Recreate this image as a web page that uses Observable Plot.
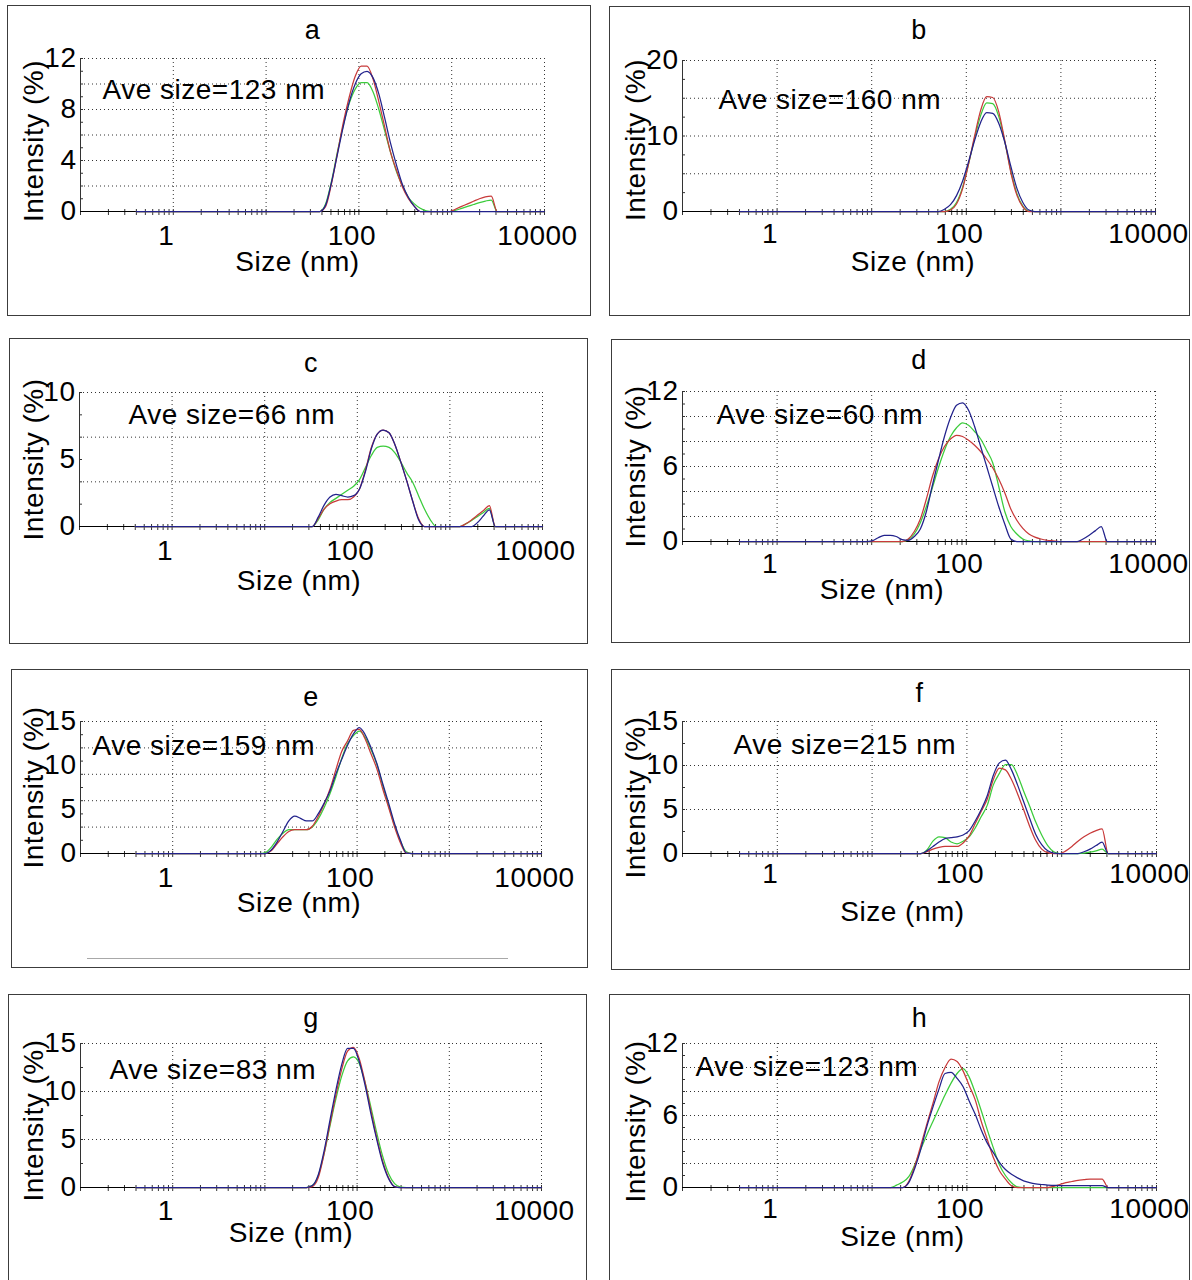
<!DOCTYPE html>
<html>
<head>
<meta charset="utf-8">
<script src="https://cdn.jsdelivr.net/npm/d3@7"></script>
<script src="https://cdn.jsdelivr.net/npm/@observablehq/plot@0.6"></script>
<style>
  body { margin: 0; background: #fff; }
  #page { position: relative; width: 1192px; height: 1280px; overflow: hidden; background: #fff;
          font-family: "Liberation Sans", Arial, sans-serif; }
  #page svg text { letter-spacing: 0.5px; }
  .box { position: absolute; border: 1.2px solid #3c3c3c; box-sizing: border-box; }
  .plotwrap { position: absolute; }
  .artifact { position: absolute; border-top: 1px solid #a8a8a8; }
</style>
</head>
<body>
<div id="page"></div>
<script>
// ---------------- data ----------------
const XGRID = [1, 10, 100, 1000, 10000];
const XLABELS = [1, 100, 10000];

// panel a
const aLabel = "Ave size=123 nm";
const aSizes = [0.4, 37.84, 43.82, 50.75, 58.77, 68.06, 78.82, 91.28, 105.7, 122.4, 141.8, 164.2, 190.1, 220.2, 255.0, 295.3, 342.0, 396.1, 458.7, 531.2, 615.1, 712.4, 825.0, 955.4, 1106, 1281, 1484, 1718, 1990, 2305, 2669, 3091, 10000];
const aRed   = [0, 0, 0.4, 2.2, 4.6, 7.0, 9.0, 10.6, 11.4, 11.4, 10.4, 8.6, 6.6, 4.6, 3.2, 1.9, 1.0, 0.4, 0, 0, 0, 0, 0, 0, 0.2, 0.4, 0.6, 0.8, 1.0, 1.15, 1.2, 0, 0];
const aGreen = [0, 0, 0.6, 2.4, 4.7, 6.8, 8.5, 9.6, 10.1, 10.1, 9.4, 8.0, 6.3, 4.6, 3.1, 2.0, 1.1, 0.6, 0.25, 0.05, 0, 0, 0, 0, 0.1, 0.25, 0.4, 0.55, 0.7, 0.82, 0.9, 0, 0];
const aBlue  = [0, 0, 0.5, 2.3, 4.5, 6.7, 8.6, 10.0, 10.8, 11.0, 10.5, 9.2, 7.3, 5.3, 3.6, 2.1, 1.1, 0.4, 0, 0, 0, 0, 0, 0, 0, 0, 0, 0, 0, 0, 0, 0, 0];
const aYLabels = [0, 4, 8, 12];
const aYGrid = [2, 4, 6, 8, 10, 12];

// panel b
const bLabel = "Ave size=160 nm";
const bSizes = [0.4, 50.75, 58.77, 68.06, 78.82, 91.28, 105.7, 122.4, 141.8, 164.2, 190.1, 220.2, 255.0, 295.3, 342.0, 396.1, 458.7, 531.2, 10000];
const bRed   = [0, 0, 0, 0.2, 1.0, 3.0, 6.3, 10.0, 13.4, 15.2, 15.1, 13.2, 9.4, 5.2, 2.2, 0.6, 0, 0, 0];
const bGreen = [0, 0, 0, 0.3, 1.2, 3.2, 6.3, 9.7, 12.7, 14.4, 14.3, 12.6, 9.3, 5.4, 2.4, 0.7, 0.05, 0, 0];
const bBlue  = [0, 0, 0.3, 0.9, 2.1, 4.0, 6.6, 9.4, 11.8, 13.1, 13.0, 11.7, 9.2, 6.0, 3.1, 1.2, 0.2, 0, 0];
const bYLabels = [0, 10, 20];
const bYGrid = [5, 10, 15, 20];

// panel c
const cLabel = "Ave size=66 nm";
const cSizes = [0.4, 32.67, 37.84, 43.82, 50.75, 58.77, 68.06, 78.82, 91.28, 105.7, 122.4, 141.8, 164.2, 190.1, 220.2, 255.0, 295.3, 342.0, 396.1, 458.7, 531.2, 615.1, 712.4, 825.0, 955.4, 1106, 1281, 1484, 1718, 1990, 2305, 2669, 3091, 10000];
const cRed   = [0, 0, 0.6, 1.3, 1.7, 1.9, 2.0, 2.0, 2.2, 2.8, 4.2, 5.9, 6.9, 7.2, 7.0, 6.1, 4.8, 3.4, 1.9, 0.6, 0, 0, 0, 0, 0, 0, 0, 0.2, 0.5, 0.85, 1.2, 1.55, 0, 0];
const cGreen = [0, 0, 0.5, 1.3, 1.8, 2.1, 2.4, 2.7, 3.0, 3.5, 4.4, 5.3, 5.9, 6.0, 5.9, 5.5, 4.8, 4.0, 3.3, 2.3, 1.3, 0.5, 0, 0, 0, 0, 0, 0.2, 0.45, 0.75, 1.05, 1.35, 0, 0];
const cBlue  = [0, 0, 0.7, 1.6, 2.2, 2.4, 2.3, 2.2, 2.3, 2.8, 4.1, 5.8, 6.9, 7.2, 7.0, 6.1, 4.8, 3.4, 1.9, 0.5, 0, 0, 0, 0, 0, 0, 0, 0, 0, 0.3, 0.8, 1.25, 0, 0];
const cYLabels = [0, 5, 10];
const cYGrid = [10 / 3, 20 / 3, 10];

// panel d
const dLabel = "Ave size=60 nm";
const dSizes = [0.4, 8.721, 10.1, 11.7, 13.54, 15.69, 18.17, 21.04, 24.36, 28.21, 32.67, 37.84, 43.82, 50.75, 58.77, 68.06, 78.82, 91.28, 105.7, 122.4, 141.8, 164.2, 190.1, 220.2, 255.0, 295.3, 342.0, 396.1, 458.7, 531.2, 615.1, 712.4, 825.0, 955.4, 1106, 1281, 1484, 1718, 1990, 2305, 2669, 3091, 10000];
const dRed   = [0, 0, 0, 0, 0, 0, 0, 0, 0.2, 0.8, 1.8, 3.4, 5.2, 6.6, 7.6, 8.2, 8.5, 8.4, 8.1, 7.7, 7.2, 6.6, 5.9, 5.0, 3.9, 2.6, 1.7, 1.05, 0.6, 0.35, 0.2, 0.1, 0.05, 0, 0, 0, 0, 0, 0, 0, 0, 0, 0];
const dGreen = [0, 0, 0, 0, 0, 0, 0, 0, 0.15, 0.6, 1.5, 2.8, 4.3, 5.9, 7.3, 8.4, 9.1, 9.5, 9.3, 8.8, 8.2, 7.3, 6.3, 4.4, 2.4, 1.2, 0.6, 0.2, 0.05, 0, 0, 0, 0, 0, 0, 0, 0, 0, 0, 0, 0, 0, 0];
const dBlue  = [0, 0, 0.05, 0.3, 0.5, 0.5, 0.4, 0.15, 0.1, 0.4, 1.0, 2.4, 4.5, 6.5, 8.4, 9.9, 10.9, 11.1, 10.5, 9.2, 7.6, 6.0, 4.4, 2.8, 1.4, 0.2, 0, 0, 0, 0, 0, 0, 0, 0, 0, 0, 0, 0.2, 0.5, 0.85, 1.2, 0, 0];
const dYLabels = [0, 6, 12];
const dYGrid = [2, 4, 6, 8, 10, 12];

// panel e
const eLabel = "Ave size=159 nm";
const eSizes = [0.4, 8.721, 10.1, 11.7, 13.54, 15.69, 18.17, 21.04, 24.36, 28.21, 32.67, 37.84, 43.82, 50.75, 58.77, 68.06, 78.82, 91.28, 105.7, 122.4, 141.8, 164.2, 190.1, 220.2, 255.0, 295.3, 342.0, 396.1, 10000];
const eRed   = [0, 0, 0, 0.3, 1.1, 1.9, 2.5, 2.7, 2.7, 2.7, 3.1, 4.2, 5.6, 7.3, 9.5, 11.6, 12.8, 14.0, 14.1, 13.0, 11.3, 9.6, 7.3, 5.2, 3.0, 1.2, 0.05, 0, 0];
const eGreen = [0, 0, 0.1, 0.7, 1.6, 2.3, 2.7, 2.7, 2.7, 2.7, 3.0, 3.9, 5.2, 6.8, 8.7, 10.8, 12.5, 13.4, 13.9, 13.2, 11.8, 10.1, 7.7, 5.4, 3.2, 1.4, 0.2, 0, 0];
const eBlue  = [0, 0, 0, 0.4, 1.3, 2.5, 3.7, 4.25, 4.0, 3.7, 3.7, 4.5, 5.7, 7.1, 9.0, 10.7, 12.3, 13.6, 14.3, 13.5, 12.0, 10.2, 7.9, 5.7, 3.4, 1.5, 0.05, 0, 0];
const eYLabels = [0, 5, 10, 15];
const eYGrid = [3, 6, 9, 12, 15];

// panel f
const fLabel = "Ave size=215 nm";
const fSizes = [0.4, 32.67, 37.84, 43.82, 50.75, 58.77, 68.06, 78.82, 91.28, 105.7, 122.4, 141.8, 164.2, 190.1, 220.2, 255.0, 295.3, 342.0, 396.1, 458.7, 531.2, 615.1, 712.4, 825.0, 955.4, 1106, 1281, 1484, 1718, 1990, 2305, 2669, 3091, 10000];
const fRed   = [0, 0, 0.2, 0.5, 0.7, 0.8, 0.8, 0.8, 1.2, 2.0, 3.4, 4.8, 6.2, 8.4, 9.7, 9.5, 8.4, 6.8, 5.0, 3.1, 1.5, 0.5, 0.1, 0, 0, 0.3, 0.8, 1.4, 1.9, 2.3, 2.6, 2.8, 0, 0];
const fGreen = [0, 0, 0.4, 1.4, 1.9, 1.8, 1.3, 1.1, 1.4, 1.9, 2.9, 4.2, 5.5, 7.8, 9.1, 10.1, 10.1, 8.9, 7.1, 5.4, 3.6, 2.1, 0.9, 0.2, 0, 0, 0, 0, 0.05, 0.15, 0.3, 0.5, 0, 0];
const fBlue  = [0, 0, 0.3, 0.8, 1.3, 1.7, 1.8, 1.9, 2.1, 2.6, 3.7, 5.0, 6.6, 8.9, 10.3, 10.6, 9.5, 7.8, 5.9, 4.0, 2.2, 1.0, 0.3, 0.05, 0, 0, 0, 0, 0.2, 0.5, 0.9, 1.3, 0, 0];
const fYLabels = [0, 5, 10, 15];
const fYGrid = [5, 10, 15];

// panel g
const gLabel = "Ave size=83 nm";
const gSizes = [0.4, 28.21, 32.67, 37.84, 43.82, 50.75, 58.77, 68.06, 78.82, 91.28, 105.7, 122.4, 141.8, 164.2, 190.1, 220.2, 255.0, 295.3, 342.0, 10000];
const gRed   = [0, 0, 0.1, 1.0, 3.5, 6.6, 9.6, 12.3, 14.2, 14.6, 13.4, 10.9, 7.9, 5.1, 2.7, 1.0, 0.1, 0, 0, 0];
const gGreen = [0, 0, 0.2, 1.2, 3.5, 6.4, 9.2, 11.6, 13.2, 13.6, 12.9, 10.9, 8.3, 5.6, 3.2, 1.4, 0.4, 0.05, 0, 0];
const gBlue  = [0, 0, 0.2, 1.3, 3.8, 7.0, 10.1, 12.8, 14.5, 14.5, 13.1, 10.6, 7.6, 4.9, 2.5, 0.9, 0.1, 0, 0, 0];
const gYLabels = [0, 5, 10, 15];
const gYGrid = [5, 10, 15];

// panel h
const hLabel = "Ave size=123 nm";
const hSizes = [0.4, 15.69, 18.17, 21.04, 24.36, 28.21, 32.67, 37.84, 43.82, 50.75, 58.77, 68.06, 78.82, 91.28, 105.7, 122.4, 141.8, 164.2, 190.1, 220.2, 255.0, 295.3, 342.0, 396.1, 458.7, 531.2, 615.1, 712.4, 825.0, 955.4, 1106, 1281, 1484, 1718, 1990, 2305, 2669, 3091, 10000];
const hRed   = [0, 0, 0, 0, 0.5, 1.8, 3.5, 5.3, 7.0, 8.8, 10.0, 10.7, 10.5, 9.7, 8.5, 7.3, 5.5, 4.0, 2.5, 1.4, 0.7, 0.15, 0, 0, 0, 0, 0, 0, 0.1, 0.25, 0.4, 0.5, 0.6, 0.65, 0.7, 0.7, 0.7, 0, 0];
const hGreen = [0, 0, 0.2, 0.45, 0.9, 1.9, 3.2, 4.4, 5.5, 6.6, 7.7, 8.7, 9.5, 9.9, 9.2, 7.9, 6.4, 4.8, 3.3, 1.9, 1.0, 0.4, 0.05, 0, 0, 0, 0, 0, 0, 0, 0, 0, 0, 0, 0, 0, 0, 0, 0];
const hBlue  = [0, 0, 0, 0, 0.4, 1.6, 3.2, 5.1, 6.7, 8.2, 9.5, 9.6, 9.1, 8.4, 7.2, 6.1, 4.8, 3.7, 2.9, 2.1, 1.5, 1.1, 0.8, 0.55, 0.4, 0.3, 0.25, 0.2, 0.18, 0.16, 0.15, 0.15, 0.15, 0.15, 0.15, 0.15, 0.15, 0, 0];
const hYLabels = [0, 6, 12];
const hYGrid = [2, 4, 6, 8, 10, 12];

// ---------------- panels ----------------
const PANELS = [
  {id: "a", label: aLabel, sizes: aSizes, red: aRed, green: aGreen, blue: aBlue, yMax: 12, yLabels: aYLabels, yGrid: aYGrid, yMinorStep: 1},
  {id: "b", label: bLabel, sizes: bSizes, red: bRed, green: bGreen, blue: bBlue, yMax: 20, yLabels: bYLabels, yGrid: bYGrid, yMinorStep: 2.5},
  {id: "c", label: cLabel, sizes: cSizes, red: cRed, green: cGreen, blue: cBlue, yMax: 10, yLabels: cYLabels, yGrid: cYGrid, yMinorStep: 10 / 6},
  {id: "d", label: dLabel, sizes: dSizes, red: dRed, green: dGreen, blue: dBlue, yMax: 12, yLabels: dYLabels, yGrid: dYGrid, yMinorStep: 1},
  {id: "e", label: eLabel, sizes: eSizes, red: eRed, green: eGreen, blue: eBlue, yMax: 15, yLabels: eYLabels, yGrid: eYGrid, yMinorStep: 1.5},
  {id: "f", label: fLabel, sizes: fSizes, red: fRed, green: fGreen, blue: fBlue, yMax: 15, yLabels: fYLabels, yGrid: fYGrid, yMinorStep: 2.5},
  {id: "g", label: gLabel, sizes: gSizes, red: gRed, green: gGreen, blue: gBlue, yMax: 15, yLabels: gYLabels, yGrid: gYGrid, yMinorStep: 2.5},
  {id: "h", label: hLabel, sizes: hSizes, red: hRed, green: hGreen, blue: hBlue, yMax: 12, yLabels: hYLabels, yGrid: hYGrid, yMinorStep: 1}
];

// ---------------- layout (pixels) ----------------
const LAYOUT = {
  a: {box: [7, 5, 591, 316],      frame: [80, 58, 544, 211],      title: -28, ave: [22, 32], size: [-15, 51], inten: [-46, 6],  tick: 24},
  b: {box: [609, 6, 1190, 316],   frame: [682, 60, 1155, 211],    title: -30, ave: [36, 40], size: [-6, 51],  inten: [-46, 4],  tick: 22},
  c: {box: [9, 338, 588, 644],    frame: [79, 392, 542, 526],     title: -29, ave: [49, 23], size: [-12, 55], inten: [-45, 0],  tick: 24},
  d: {box: [611, 339, 1190, 643], frame: [682, 391, 1155, 541],   title: -31, ave: [34, 24], size: [-37, 49], inten: [-46, 0],  tick: 22},
  e: {box: [11, 669, 588, 968],   frame: [80, 721, 541, 853],     title: -24, ave: [12, 25], size: [-12, 50], inten: [-46, 0],  tick: 24},
  f: {box: [611, 669, 1190, 970], frame: [682, 721, 1156, 853],   title: -28, ave: [51, 24], size: [-17, 59], inten: [-46, 10], tick: 20},
  g: {box: [8, 994, 587, 1300],   frame: [80, 1043, 541, 1187],   title: -25, ave: [29, 27], size: [-20, 46], inten: [-46, 5],  tick: 23},
  h: {box: [609, 994, 1190, 1300],frame: [682, 1043, 1156, 1187], title: -25, ave: [13, 24], size: [-17, 50], inten: [-46, 6],  tick: 21}
};

const COLORS = {red: "#c83a3a", green: "#3ccc3c", blue: "#22228c"};
const FONT = "'Liberation Sans', Arial, Helvetica, sans-serif";

const xMinor = [];
for (let k = -1; k < 4; k++) for (let m = 1; m <= 9; m++) xMinor.push(+(m * Math.pow(10, k)).toPrecision(6));
xMinor.push(10000);

const page = document.getElementById("page");

function drawPanel(p) {
  const L = LAYOUT[p.id];
  const [bx0, by0, bx1, by1] = L.box;
  const [fx0, fy0, fx1, fy1] = L.frame;

  const box = document.createElement("div");
  box.className = "box";
  Object.assign(box.style, {left: bx0 + "px", top: by0 + "px", width: (bx1 - bx0) + "px", height: (by1 - by0) + "px"});
  page.appendChild(box);

  const yMinor = d3.range(0, p.yMax + 1e-9, p.yMinorStep);
  const lines = ["green", "red", "blue"].map((c) =>
    Plot.line(p.sizes.map((s, i) => ({size: s, v: p[c][i]})), {
      x: "size", y: "v", stroke: COLORS[c], strokeWidth: 1.25, curve: "monotone-x"
    })
  );
  const txt = {lineAnchor: "middle", textAnchor: "middle", fill: "#000"};

  const svg = Plot.plot({
    width: bx1 - bx0,
    height: by1 - by0,
    marginLeft: fx0 - bx0,
    marginRight: bx1 - fx1,
    marginTop: fy0 - by0,
    marginBottom: by1 - fy1,
    style: {fontFamily: FONT, fontSize: "28px", color: "#000", background: "transparent", overflow: "visible"},
    x: {type: "log", domain: [0.1, 10000], label: null},
    y: {domain: [0, p.yMax], label: null},
    marks: [
      Plot.gridY(p.yGrid, {stroke: "#333", strokeOpacity: 1, strokeDasharray: "1,3"}),
      Plot.gridX(XGRID, {stroke: "#333", strokeOpacity: 1, strokeDasharray: "1,3"}),
      Plot.frame({anchor: "left", stroke: "#333"}),
      Plot.axisY(yMinor, {label: null, tickSize: -3, tickFormat: () => "", stroke: "#333"}),
      Plot.axisY(p.yLabels, {label: null, tickSize: 0, tickPadding: 4, fontSize: 28, tickFormat: (d) => String(d)}),
      Plot.axisX(xMinor, {label: null, tickSize: 4, tickFormat: () => "", stroke: "#333"}),
      Plot.axisX(xMinor, {label: null, tickSize: -2, tickFormat: () => "", stroke: "#333"}),
      Plot.axisX(XLABELS, {label: null, tickSize: 0, tickPadding: L.tick - 10, fontSize: 28, dx: -7, tickFormat: (d) => String(d)}),
      Plot.frame({anchor: "bottom", stroke: "#000"}),
      ...lines,
      Plot.text([p.id], {...txt, text: (d) => d, frameAnchor: "top", dy: L.title, fontSize: 27}),
      Plot.text([p.label], {...txt, text: (d) => d, frameAnchor: "top-left", dx: L.ave[0], dy: L.ave[1], textAnchor: "start", fontSize: 28}),
      Plot.text(["Size (nm)"], {...txt, text: (d) => d, frameAnchor: "bottom", dx: L.size[0], dy: L.size[1], fontSize: 28}),
      Plot.text(["Intensity (%)"], {...txt, text: (d) => d, frameAnchor: "left", dx: L.inten[0], dy: L.inten[1], rotate: -90, fontSize: 28})
    ]
  });
  const wrap = document.createElement("div");
  wrap.className = "plotwrap";
  Object.assign(wrap.style, {left: bx0 + "px", top: by0 + "px"});
  wrap.appendChild(svg);
  page.appendChild(wrap);
}

PANELS.forEach(drawPanel);

// faint stray rule visible inside panel e of the original figure
const art = document.createElement("div");
art.className = "artifact";
Object.assign(art.style, {left: "87px", top: "958px", width: "421px"});
page.appendChild(art);
</script>
</body>
</html>
